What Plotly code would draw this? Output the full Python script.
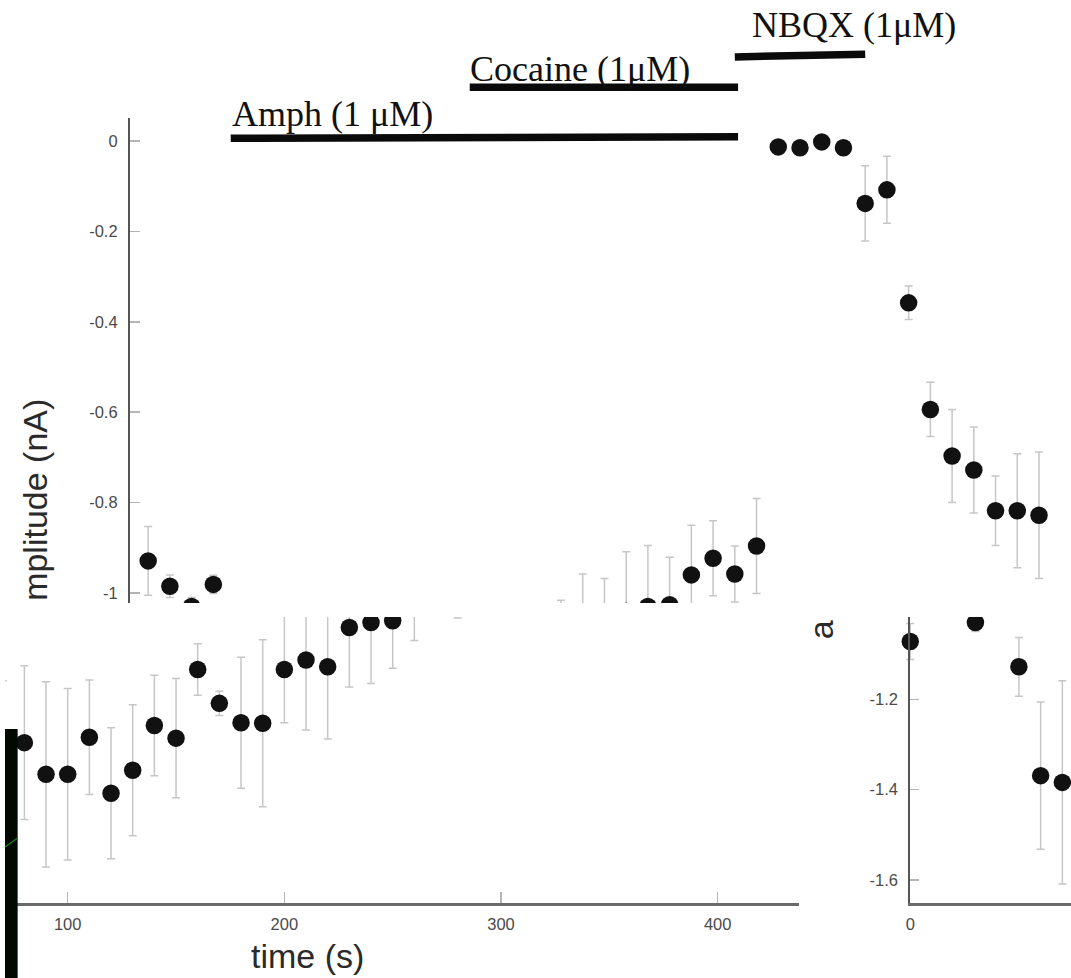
import plotly.graph_objects as go

# ---------------- data ----------------
time_s = [0, 10, 20, 30, 40, 50, 60, 70, 80, 90, 100, 110, 120, 130, 140, 150,
          160, 170, 180, 190, 200, 210, 220, 230, 240, 250, 260, 270, 280, 290,
          300, 310, 320, 330, 340, 350, 360, 370, 380, 390, 400, 410, 420]
amp_nA = [-1.072, -0.929, -0.985, -1.030, -0.981, -1.128, -1.369, -1.384,
          -1.296, -1.366, -1.366, -1.284, -1.408, -1.357, -1.258, -1.286,
          -1.134, -1.209, -1.252, -1.253, -1.134, -1.113, -1.128, -1.041,
          -1.030, -1.026, -0.960, -0.923, -0.958, -0.896,
          -0.013, -0.015, -0.002, -0.015, -0.138, -0.108, -0.358, -0.594,
          -0.697, -0.728, -0.818, -0.818, -0.828]
sem_nA = [0.040, 0.076, 0.025, 0.020, 0.020, 0.065, 0.163, 0.225,
          0.170, 0.205, 0.190, 0.127, 0.145, 0.145, 0.111, 0.132,
          0.057, 0.027, 0.145, 0.185, 0.118, 0.155, 0.160, 0.132,
          0.135, 0.105, 0.110, 0.083, 0.062, 0.105,
          0.008, 0.008, 0.008, 0.008, 0.083, 0.074, 0.037, 0.060,
          0.103, 0.095, 0.077, 0.126, 0.140]

drug_labels = ["Amph (1 μM)", "Cocaine (1μM)", "NBQX (1μM)"]
drug_start_s = [48, 158, 280]
drug_end_s = [281.5, 281.5, 340]

y_ticks_top = [0, -0.2, -0.4, -0.6, -0.8, -1]
y_ticktext_top = ["0", "-0.2", "-0.4", "-0.6", "-0.8", "-1"]
y_ticks_bottom = [-1.2, -1.4, -1.6]
y_ticktext_bottom = ["-1.2", "-1.4", "-1.6"]
x_ticks = [100, 200, 300, 400]
x_ticktext = ["100", "200", "300", "400"]
x_ticks_right = [0]
x_ticktext_right = ["0"]

x_title = "time (s)"
y_title_top = "mplitude (nA)"
y_title_piece = "a"

# ---------------- layout geometry (pixels of the 1071 x 978 page) ----------------
W, H = 1071, 978


def fx(px):
    return px / W


def fy(py):
    return 1 - py / H


# top panel: t=0 at x=122 px, 2.183 px per s; value 0 at y=141 px, 452 px per nA
top_t0, top_sc = 122.0, 2.183
top_v0, top_vs = 141.0, 452.0
top_xrange = [(0 - top_t0) / top_sc, (W - top_t0) / top_sc]
top_ytop_px, top_ybot_px = 118.0, 603.0
top_yrange = [-(top_ybot_px - top_v0) / top_vs, -(top_ytop_px - top_v0) / top_vs]
over_yrange = [top_yrange[0], (top_v0 - 0) / top_vs]

# bottom panels: value -1.2 at y=699.3 px, 451.7 px per nA
bot_ref_v, bot_ref_px, bot_vs = -1.2, 699.3, 451.7
bot_ytop_px, bot_ybot_px = 617.0, 903.0
bot_yrange = [bot_ref_v - (bot_ybot_px - bot_ref_px) / bot_vs,
              bot_ref_v + (bot_ref_px - bot_ytop_px) / bot_vs]
bot_ydomain = [fy(bot_ybot_px), fy(bot_ytop_px)]

# lower-left piece: t=100 at 63 px, 400 at 716 px
ll_sc = (716 - 63) / 300.0
ll_t_at0 = 100 - 63 / ll_sc
ll_right_px = 798.0
ll_xrange = [ll_t_at0, ll_t_at0 + ll_right_px / ll_sc]

# lower-right piece: t=0 at 909.5 px
lr_t0, lr_sc, lr_left_px = 909.5, 2.183, 800.0
lr_xrange = [(lr_left_px - lr_t0) / lr_sc, (W - lr_t0) / lr_sc]
lr_axis_xrange = [0, (W - lr_t0) / lr_sc]

bar_level_left = [0.006, 0.119, 0.186]
bar_level_right = [0.0095, 0.119, 0.192]

MARK = dict(size=17.5, color="#111111")
ERR = dict(type="data", array=sem_nA, color="#c6c6c6", thickness=1.5, width=4)
TICKFONT = dict(family="Liberation Sans, Arial", size=16.5, color="#4a4a4a")
AXLINE = "#555555"
TICKCOL = "#b5b5b5"

fig = go.Figure()

# data drawn in each of the three pieces
for xa, ya in [("x", "y"), ("x3", "y3"), ("x4", "y4")]:
    fig.add_trace(go.Scatter(x=time_s, y=amp_nA, mode="markers", marker=MARK,
                             error_y=ERR, xaxis=xa, yaxis=ya, showlegend=False,
                             hoverinfo="skip"))

# drug application bars
for i in range(len(drug_labels)):
    fig.add_trace(go.Scatter(x=[drug_start_s[i], drug_end_s[i]],
                             y=[bar_level_left[i], bar_level_right[i]],
                             mode="lines", line=dict(color="#0a0a0a", width=7.5),
                             xaxis="x2", yaxis="y2", showlegend=False,
                             hoverinfo="skip"))

# axis-only piece on lower right
fig.add_trace(go.Scatter(x=[], y=[], xaxis="x5", yaxis="y5", showlegend=False))

hidden = dict(visible=False, showgrid=False, zeroline=False, fixedrange=True)

fig.update_layout(
    width=W, height=H,
    margin=dict(l=0, r=0, t=0, b=0),
    paper_bgcolor="white", plot_bgcolor="rgba(0,0,0,0)",
    hovermode=False,
    xaxis=dict(domain=[0, 1], range=top_xrange, anchor="y", **hidden),
    yaxis=dict(domain=[fy(top_ybot_px), fy(top_ytop_px)], range=top_yrange,
               anchor="free", position=fx(124.5), showline=True,
               linecolor=AXLINE, linewidth=2, ticks="inside", ticklen=10,
               tickcolor=TICKCOL, tickwidth=1.5, tickvals=y_ticks_top,
               ticktext=y_ticktext_top, tickfont=TICKFONT, showgrid=False,
               zeroline=False, ticklabelstandoff=7),
    xaxis2=dict(domain=[0, 1], range=top_xrange, anchor="y2", **hidden),
    yaxis2=dict(domain=[fy(top_ybot_px), 1], range=over_yrange, anchor="x2",
                **hidden),
    xaxis3=dict(domain=[0, fx(ll_right_px)], range=ll_xrange, anchor="y3",
                showline=True, linecolor="#6a6a6a", linewidth=2.5,
                ticks="inside", ticklen=11, tickcolor=TICKCOL, tickwidth=1.5,
                tickvals=x_ticks, ticktext=x_ticktext, tickfont=TICKFONT,
                showgrid=False, zeroline=False, ticklabelstandoff=5),
    yaxis3=dict(domain=bot_ydomain, range=bot_yrange, anchor="x3", **hidden),
    xaxis4=dict(domain=[fx(lr_left_px), 1], range=lr_xrange, anchor="y4",
                **hidden),
    yaxis4=dict(domain=bot_ydomain, range=bot_yrange, anchor="x4", **hidden),
    xaxis5=dict(domain=[fx(lr_t0), 1], range=lr_axis_xrange, anchor="y5",
                showline=True, linecolor="#6a6a6a", linewidth=2.5,
                ticks="", tickvals=x_ticks_right, ticktext=x_ticktext_right,
                tickfont=TICKFONT, showgrid=False, zeroline=False,
                ticklabelstandoff=5),
    yaxis5=dict(domain=bot_ydomain, range=bot_yrange, anchor="x5",
                showline=True, linecolor=AXLINE, linewidth=2, ticks="inside",
                ticklen=9, tickcolor=TICKCOL, tickwidth=1.5,
                tickvals=y_ticks_bottom, ticktext=y_ticktext_bottom,
                tickfont=TICKFONT, showgrid=False, zeroline=False,
                ticklabelstandoff=7),
)

SERIF = dict(family="Liberation Serif, Times New Roman", size=36, color="#111111")
SANS_T = dict(family="Liberation Sans, Arial", size=34, color="#2a2a2a")

label_pos = [(226, 114), (465, 69), (748, 25)]
for lab, (px, py) in zip(drug_labels, label_pos):
    fig.add_annotation(text=lab, x=fx(px), y=fy(py), xref="paper", yref="paper",
                       xanchor="left", yanchor="middle", showarrow=False,
                       font=SERIF)

fig.add_annotation(text=y_title_top, x=fx(30), y=fy(500), xref="paper",
                   yref="paper", textangle=-90, showarrow=False, font=SANS_T,
                   xanchor="center", yanchor="middle")
fig.add_annotation(text=y_title_piece, x=fx(820), y=fy(630), xref="paper",
                   yref="paper", textangle=-90, showarrow=False, font=SANS_T,
                   xanchor="center", yanchor="middle")
fig.add_annotation(text=x_title, x=fx(304), y=fy(956), xref="paper",
                   yref="paper", showarrow=False, font=SANS_T,
                   xanchor="center", yanchor="middle")

# dark micrograph sliver at lower left
fig.add_shape(type="rect", xref="paper", yref="paper", x0=0, x1=fx(12.7),
              y0=0, y1=fy(729), fillcolor="#020902", line=dict(width=0),
              layer="above")
fig.add_shape(type="line", xref="paper", yref="paper", x0=0, y0=fy(847),
              x1=fx(12.7), y1=fy(838), line=dict(color="#1c7a1c", width=1.5),
              layer="above")

fig.write_html("out.html",
               config={"displayModeBar": False, "staticPlot": True},
               post_script="document.body.style.margin='0';"
                           "document.body.style.overflow='hidden';")
